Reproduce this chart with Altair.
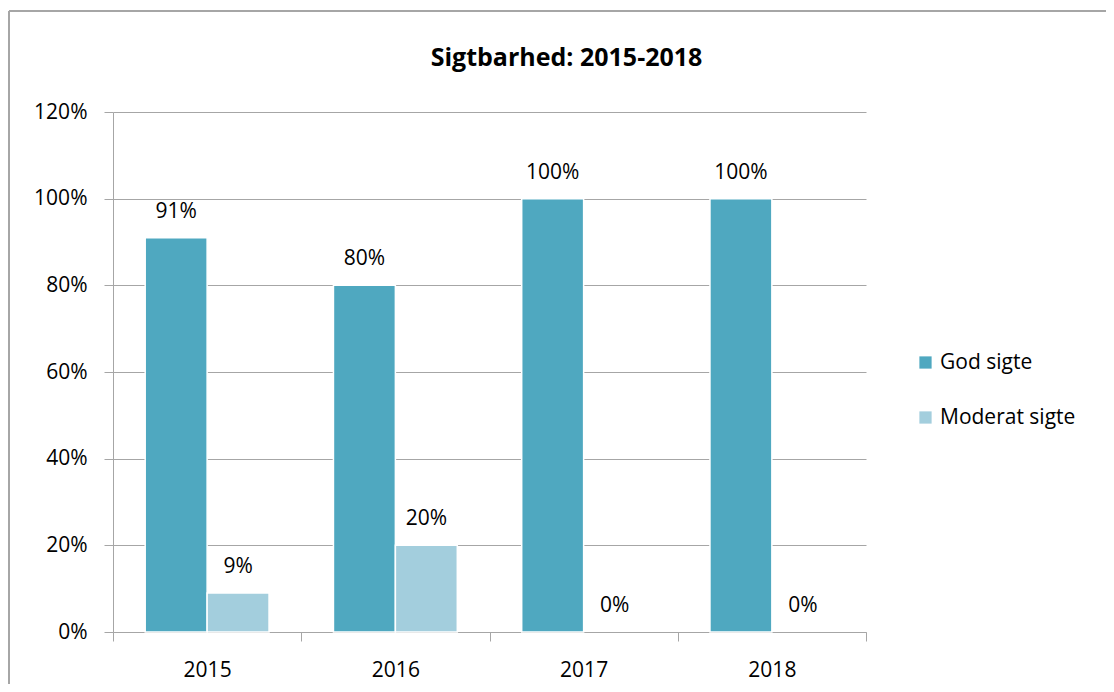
import altair as alt
import pandas as pd

years = ["2015", "2016", "2017", "2018"]
series = ["God sigte", "Moderat sigte"]
god_values = [0.91, 0.80, 1.00, 1.00]
moderat_values = [0.09, 0.20, 0.00, 0.00]
colors = ["#4FA8C0", "#A3CEDD"]
y_ticks = [0, 0.2, 0.4, 0.6, 0.8, 1.0, 1.2]

rows = []
for i, y in enumerate(years):
    rows.append({"year": y, "series": series[0], "value": god_values[i]})
    rows.append({"year": y, "series": series[1], "value": moderat_values[i]})
df = pd.DataFrame(rows)

FONT = "Open Sans"
FS = 21

x_enc = alt.X(
    "year:N",
    sort=years,
    scale=alt.Scale(paddingInner=0, paddingOuter=0),
    axis=alt.Axis(
        title=None, labelAngle=0, tickBand="extent", tickSize=9,
        labelPadding=18, labelFontSize=FS, labelColor="black",
        domainColor="#A6A6A6", tickColor="#A6A6A6", labelFont=FONT,
    ),
)
xo_enc = alt.XOffset("series:N", sort=series,
                     scale=alt.Scale(paddingInner=0, paddingOuter=0.52))
y_enc = alt.Y(
    "value:Q",
    scale=alt.Scale(domain=[0, 1.2], nice=False),
    axis=alt.Axis(
        title=None, values=y_ticks, format=".0%", tickSize=9, labelPadding=17,
        labelFontSize=FS, labelColor="black", domainColor="#A6A6A6",
        tickColor="#A6A6A6", gridColor="#A6A6A6", labelFont=FONT,
    ),
)

bars = alt.Chart(df).mark_bar(stroke="white", strokeWidth=1.5).encode(
    x=x_enc,
    xOffset=xo_enc,
    y=y_enc,
    strokeOpacity=alt.condition(alt.datum.value > 0, alt.value(1), alt.value(0)),
    color=alt.Color(
        "series:N",
        sort=series,
        scale=alt.Scale(domain=series, range=colors),
        legend=alt.Legend(
            title=None, orient="none", legendX=802, legendY=240,
            symbolType="square", symbolSize=150, symbolStrokeWidth=0,
            labelFontSize=FS, labelFont=FONT, labelColor="black",
            rowPadding=33, labelOffset=4, padding=0,
        ),
    ),
)

labels = alt.Chart(df).mark_text(
    baseline="alphabetic", dy=-20, fontSize=FS, font=FONT, color="black"
).encode(
    x=alt.X("year:N", sort=years),
    xOffset=alt.XOffset("series:N", sort=series),
    y=alt.Y("value:Q"),
    text=alt.Text("value:Q", format=".0%"),
)

border_left = alt.Chart(df).mark_rule(color="#A6A6A6", strokeWidth=1.5).encode(
    x=alt.value(-104), y=alt.value(-101), y2=alt.value(700)
)
border_top = alt.Chart(df).mark_rule(color="#A6A6A6", strokeWidth=1.5).encode(
    x=alt.value(-104), x2=alt.value(1100), y=alt.value(-101)
)

chart = alt.layer(bars, labels, border_left, border_top).properties(
    width=753,
    height=520,
    padding={"left": 105, "top": 104, "right": 240, "bottom": 52},
    autosize=alt.AutoSizeParams(type="none"),
    title=alt.TitleParams(
        "Sigtbarhed: 2015-2018", fontSize=25, font=FONT, fontWeight="bold",
        anchor="middle", dx=77, offset=-81, baseline="alphabetic", color="black",
    ),
).configure_view(stroke=None)

chart.save("out.html", embed_options={"renderer": "svg", "actions": False})
